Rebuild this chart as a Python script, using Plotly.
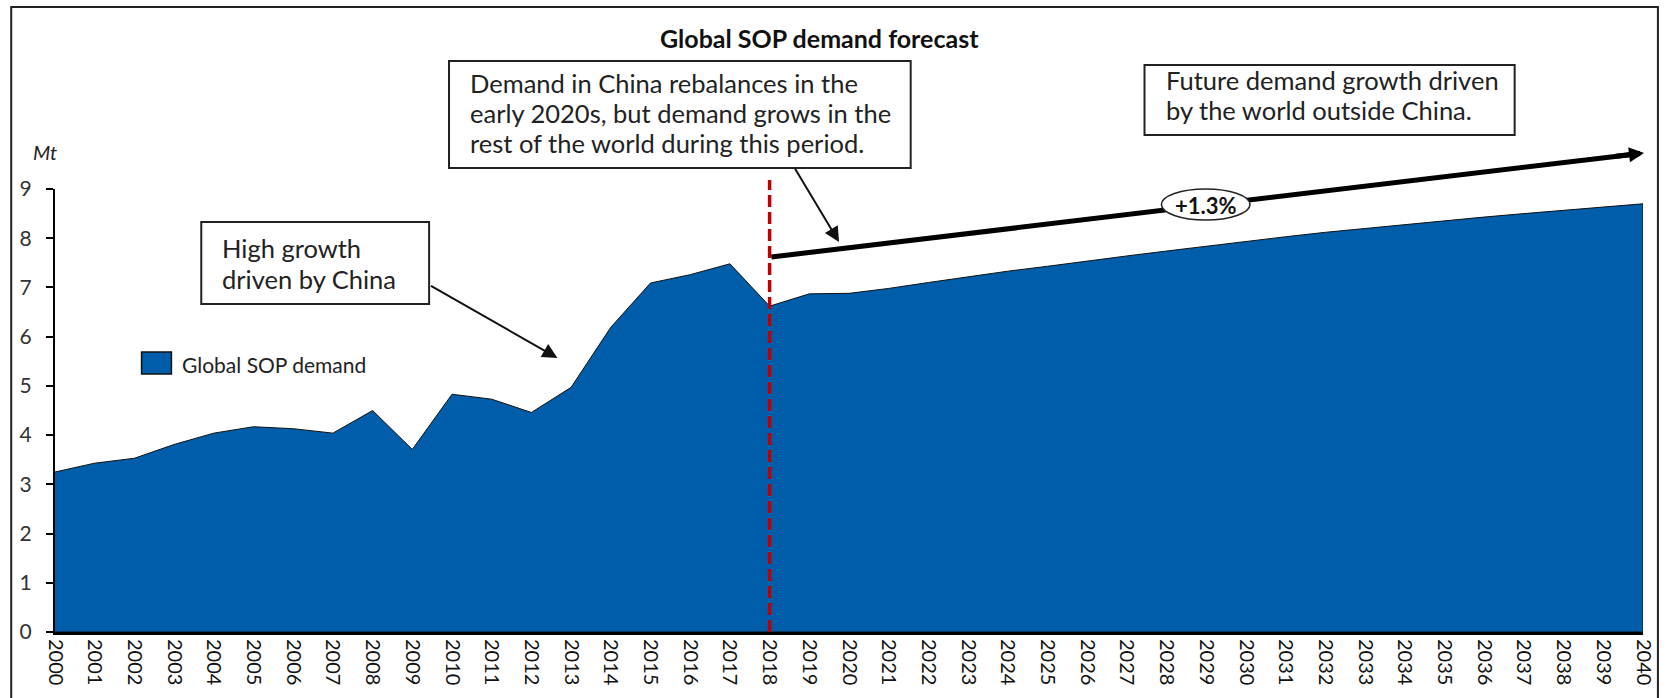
import plotly.graph_objects as go

# Global SOP demand, Mt (history to 2018, forecast to 2040)
years = list(range(2000, 2041))
demand = [3.25, 3.43, 3.53, 3.81, 4.04, 4.17, 4.13, 4.04, 4.50, 3.71,
          4.83, 4.73, 4.46, 4.97, 6.19, 7.09, 7.26, 7.48, 6.62, 6.87,
          6.88, 6.98, 7.10, 7.22, 7.33, 7.43, 7.54, 7.64, 7.74, 7.84,
          7.94, 8.03, 8.12, 8.20, 8.28, 8.35, 8.43, 8.50, 8.57, 8.64, 8.70]
y_ticks = list(range(0, 10))
forecast_start = 2018
growth_label = "+1.3%"
series_name = "Global SOP demand"

FILL = "#005DAA"
RED = "#C00000"
FONT = "Lato"

W, H = 1669, 698
L, R, T, B = 55, 18, 189, 66
PW, PH = W - L - R, H - T - B


def px(x):
    """page pixel x -> paper x"""
    return (x - L) / PW


def py(y):
    """page pixel y -> paper y"""
    return (H - B - y) / PH


fig = go.Figure()
fig.add_trace(go.Scatter(
    x=years + [years[-1], years[0]],
    y=demand + [0, 0],
    fill="toself", fillcolor=FILL, mode="lines",
    line=dict(color="#111", width=1),
    name=series_name, showlegend=False, hoverinfo="skip",
))

shapes = []
annotations = []

# outer frame
shapes.append(dict(type="rect", xref="paper", yref="paper",
                   x0=px(11), x1=px(1666), y0=py(705), y1=py(7),
                   line=dict(color="#222", width=2), layer="above"))

# forecast divider
shapes.append(dict(type="line", xref="x", yref="paper",
                   x0=forecast_start, x1=forecast_start, y0=0, y1=py(180),
                   line=dict(color=RED, width=3.5, dash="12px,5px"), layer="above"))

# legend key
shapes.append(dict(type="rect", xref="paper", yref="paper",
                   x0=px(142), x1=px(172), y0=py(374), y1=py(352),
                   fillcolor=FILL, line=dict(color="#111", width=1.5), layer="above"))
annotations.append(dict(xref="paper", yref="paper", x=px(181), y=py(364),
                        xanchor="left", yanchor="middle", showarrow=False,
                        text=series_name, font=dict(family=FONT, size=21, color="#222")))

# text boxes: (box edges), text left, line centres, lines
boxes = [
    ((202, 431, 222, 304), 221, [248, 279], ["High growth", "driven by China"]),
    ((451, 915, 61, 168), 470, [83, 113, 143],
     ["Demand in China rebalances in the",
      "early 2020s, but demand grows in the",
      "rest of the world during this period."]),
    ((1150, 1522, 65, 135), 1170, [80, 110],
     ["Future demand growth driven", "by the world outside China."]),
]
for (x0, x1, y0, y1), tx, tys, lines in boxes:
    shapes.append(dict(type="rect", xref="paper", yref="paper",
                       x0=px(x0), x1=px(x1), y0=py(y1), y1=py(y0),
                       fillcolor="white", line=dict(color="#222", width=2), layer="above"))
    for ty, txt in zip(tys, lines):
        annotations.append(dict(xref="paper", yref="paper", x=px(tx), y=py(ty),
                                xanchor="left", yanchor="middle", align="left",
                                showarrow=False, text=txt,
                                font=dict(family=FONT, size=25.5, color="#222")))

# thin pointer arrows
for (sx, sy), (ex, ey) in [((432, 285), (560, 358)), ((798, 167), (843, 242))]:
    annotations.append(dict(xref="paper", yref="paper", x=px(ex), y=py(ey),
                            ax=sx - ex, ay=sy - ey, axref="pixel", ayref="pixel",
                            text="", showarrow=True, arrowhead=2,
                            arrowwidth=2, arrowsize=1.5, arrowcolor="#111"))

# growth trend arrow with CAGR label
sx, sy, ex, ey = 775, 257, 1652, 153
dx, dy = ex - sx, ey - sy
ln = (dx * dx + dy * dy) ** 0.5
ux, uy = dx / ln, dy / ln
shapes.append(dict(type="line", xref="paper", yref="paper",
                   x0=px(sx), y0=py(sy), x1=px(ex - ux * 10), y1=py(ey - uy * 10),
                   line=dict(color="#000", width=5), layer="above"))
annotations.append(dict(xref="paper", yref="paper", x=px(ex), y=py(ey),
                        ax=-ux * 30, ay=-uy * 30, axref="pixel", ayref="pixel",
                        text="", showarrow=True, arrowhead=2,
                        arrowwidth=5, arrowsize=0.6, arrowcolor="#000"))
shapes.append(dict(type="circle", xref="paper", yref="paper",
                   x0=px(1167), x1=px(1256), y0=py(220), y1=py(189),
                   fillcolor="white", line=dict(color="#222", width=1.5), layer="above"))
annotations.append(dict(xref="paper", yref="paper", x=px(1211.5), y=py(205),
                        xanchor="center", yanchor="middle", showarrow=False,
                        text="<b>" + growth_label + "</b>",
                        font=dict(family=FONT, size=22, color="#111")))

# title and unit
annotations.append(dict(xref="paper", yref="paper", x=px(823), y=py(38),
                        xanchor="center", yanchor="middle", showarrow=False,
                        text="<b>Global SOP demand forecast</b>",
                        font=dict(family=FONT, size=25, color="#111")))
annotations.append(dict(xref="paper", yref="paper", x=px(31), y=py(152),
                        xanchor="left", yanchor="middle", showarrow=False,
                        text="<i>Mt</i>",
                        font=dict(family=FONT, size=20, color="#222")))

fig.update_layout(
    width=W, height=H, autosize=False,
    margin=dict(l=L, r=R, t=T, b=B, pad=0),
    paper_bgcolor="white", plot_bgcolor="white",
    font=dict(family=FONT, size=18, color="#222"),
    shapes=shapes, annotations=annotations,
    showlegend=False,
    xaxis=dict(range=[years[0], years[-1]], tickmode="array", tickvals=years,
               ticktext=[str(y) for y in years], tickangle=90,
               showgrid=False, zeroline=False, showline=True,
               linecolor="#000", linewidth=3, ticks="",
               tickfont=dict(family=FONT, size=20, color="#111")),
    yaxis=dict(range=[0, 9], tickmode="array", tickvals=y_ticks,
               showgrid=False, zeroline=False, showline=True,
               linecolor="#000", linewidth=2, ticks="outside", ticklen=7,
               tickwidth=2, tickcolor="#000", ticklabelstandoff=10,
               tickfont=dict(family=FONT, size=21, color="#333")),
)

fig.write_html("out.html")
